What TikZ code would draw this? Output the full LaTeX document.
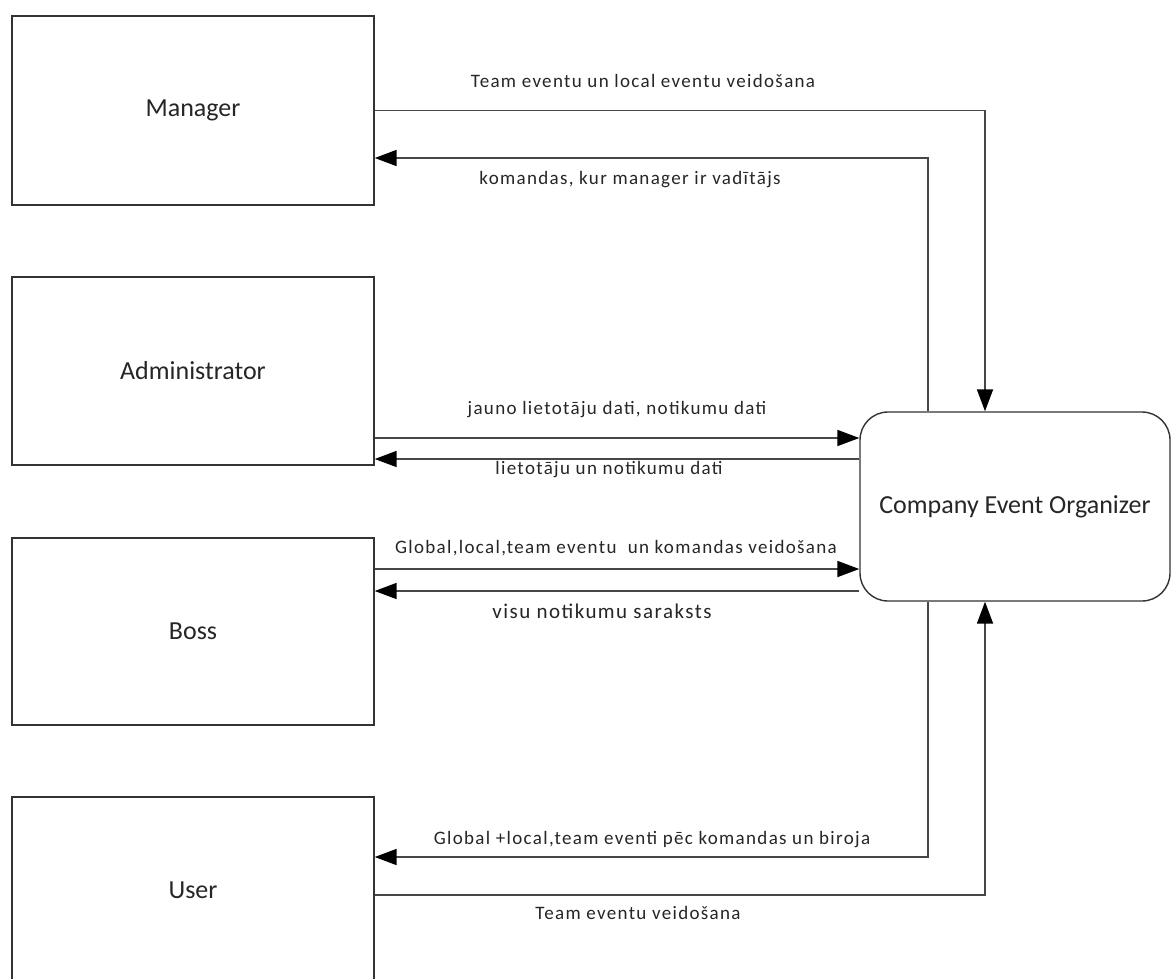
\documentclass[tikz,border=0pt]{standalone}
\usepackage{fontspec}
\setmainfont{Carlito}
\newfontfamily\lblfont[LetterSpace=7]{Carlito}
\usetikzlibrary{arrows.meta}
\begin{document}
\begin{tikzpicture}[x=1pt,y=-1pt,
  box/.style={draw=black!80, line width=1.4pt, rectangle, inner sep=0pt,
    minimum width=362pt, font=\fontsize{26}{30}\selectfont, text=black!85},
  proc/.style={box, rounded corners=28pt, minimum width=310pt, minimum height=189pt},
  conn/.style={draw=black!72, line width=1.8pt, -{Triangle[length=22pt,width=16pt,color=black]}},
  lbl/.style={font=\lblfont\fontsize{19}{23}\selectfont, text=black!85, inner sep=0pt}]
\useasboundingbox (0,0) rectangle (1172,978);
\fill[white] (0,0) rectangle (1172,978);
\begin{scope}
\clip (0,0) rectangle (1172,978);
\node[box, minimum height=189pt] (mgr) at (193,110.5) {Manager};
\node[box, minimum height=188pt] (adm) at (193,371) {Administrator};
\node[box, minimum height=187pt] (boss) at (193,631.5) {Boss};
\node[box, minimum height=186pt] (usr) at (193,890) {User};
\node[proc] (ceo) at (1015,506.5) {Company Event Organizer};

\draw[conn] (mgr.east) -| ([xshift=-30pt]ceo.north);
\draw[conn] ([xshift=-87pt]ceo.north) |- ([yshift=-47.5pt]mgr.east);
\draw[conn] ([yshift=-67pt]adm.east) -- ([yshift=-67pt]adm.east -| ceo.west);
\draw[conn] ([yshift=-88pt]adm.east -| ceo.west) -- ([yshift=-88pt]adm.east);
\draw[conn] ([yshift=62.5pt]boss.east) -- ([yshift=62.5pt]boss.east -| ceo.west);
\draw[conn] ([yshift=40.5pt]boss.east -| ceo.west) -- ([yshift=40.5pt]boss.east);
\draw[conn] ([xshift=-87pt]ceo.south) |- ([yshift=33pt]usr.east);
\draw[conn] ([yshift=-5pt]usr.east) -| ([xshift=-30pt]ceo.south);

\node[lbl] (l1) at (643,81) {Team eventu un local eventu veidošana};
\node[lbl] (l2) at (630,180) {komandas, kur manager ir vadītājs};
\node[lbl] (l3) at (617,410) {jauno lietotāju dati, notikumu dati};
\node[lbl] (l4) at (609,470) {lietotāju un notikumu dati};
\node[lbl] (l5) at (616,548) {Global,local,team eventu\ \ un komandas veidošana};
\node[lbl, font=\lblfont\fontsize{21}{25}\selectfont] (l6) at (602,611) {visu notikumu saraksts};
\node[lbl] (l7) at (652,840) {Global +local,team eventi pēc komandas un biroja};
\node[lbl] (l8) at (638,913) {Team eventu veidošana};
\end{scope}
\end{tikzpicture}
\end{document}
